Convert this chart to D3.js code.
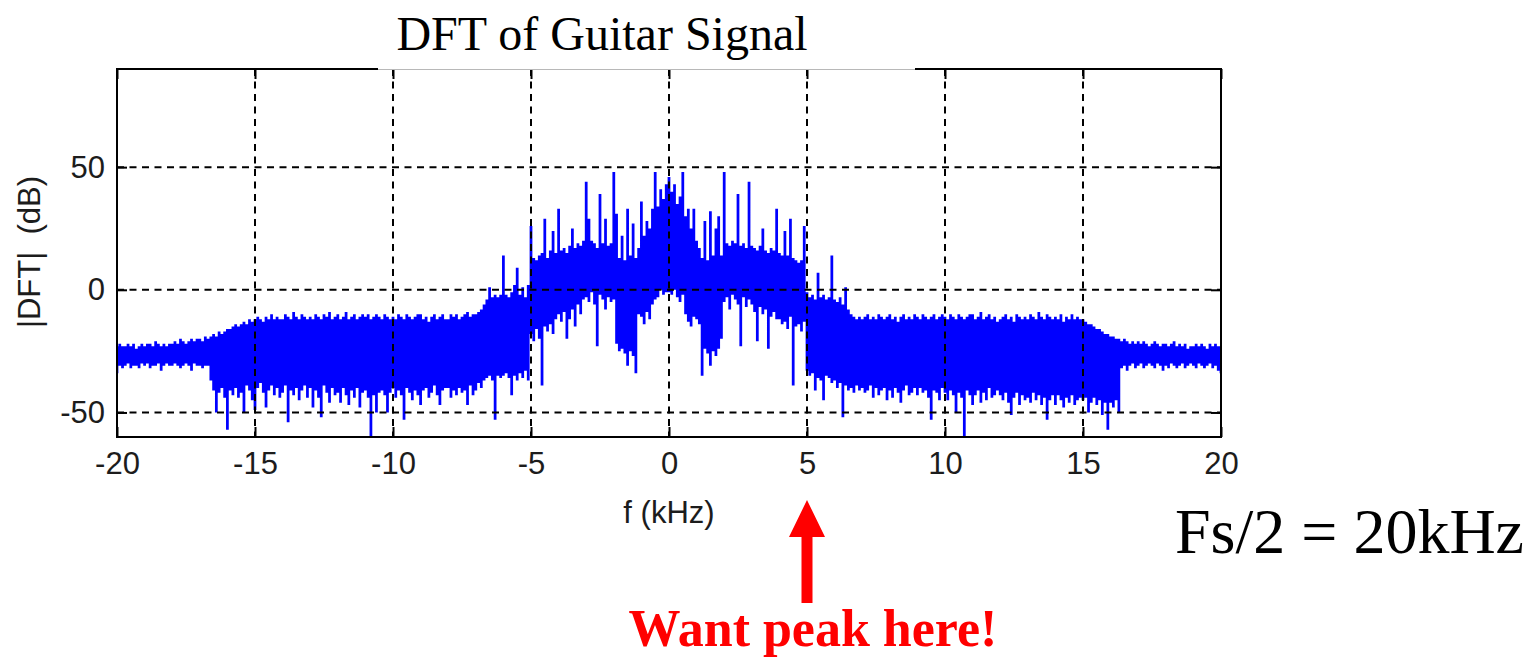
<!DOCTYPE html>
<html>
<head>
<meta charset="utf-8">
<script src="https://cdn.jsdelivr.net/npm/d3@7"></script>
<style>
  body { margin: 0; background: #fff; }
</style>
</head>
<body>
<svg id="drawing_region"></svg>
<script>
// spectrum, one value every 0.1 kHz from -20 to 20 kHz
const freqStart = -20;
const freqStep = 0.1;

// top edge of the blue band (dB)
const upperDb = [
  -23, -22, -23, -23, -22, -23, -22, -24, -23, -22,   // -20
  -23, -22, -22, -23, -21, -22, -23, -22, -23, -22,   // -19
  -22, -21, -22, -20, -21, -22, -21, -20, -21, -20,   // -18
  -20, -21, -19, -20, -19, -18, -19, -17, -18, -17,   // -17
  -16, -16, -15, -14, -15, -14, -13, -14, -12, -13,   // -16
  -12, -11, -12, -13, -11, -12, -10, -12, -11, -12,   // -15
  -12, -10, -11, -12,  -9, -11, -12, -10, -11, -12,   // -14
  -11, -12, -10, -11, -12, -10, -11,  -9, -12, -11,   // -13
  -10, -12, -11,  -9, -12, -11, -10, -12, -11, -10,   // -12
  -11, -10, -12, -11, -10, -11, -12, -10, -11, -12,   // -11
  -11, -12, -10, -11, -12, -10, -11, -12, -11, -10,   // -10
  -10, -12, -11, -13, -11, -10, -12, -11, -10, -12,   // -9
  -12, -10, -11, -10, -12, -11, -10,  -9, -11, -10,   // -8
  -10,  -9,  -8,  -6,  -4,   1,  -3,  -2,  -3,  -2,   // -7
   14,  -2,  -3,  -1,   2,   9,  -2,   1,  -3,   2,   // -6
   26,  13,  12,  14,  15,  29,  13,  16,  24,  15,   // -5
   33,  16,  17,  15,  18,  25,  17,  19,  18,  20,   // -4
   44,  29,  20,  19,  17,  39,  19,  29,  18,  19,   // -3
   48,  31,  13,  22,  12,  33,  14,  27,  13,  17,   // -2
   36,  22,  28,  25,  33,  48,  34,  41,  37,  43,   // -1
   46,  40,  43,  35,  38,  48,  30,  33,  25,  33,   // 0
   20,  17,  13,  28,  12,  32,  14,  25,  30,  14,   // 1
   48,  19,  18,  20,  19,  39,  18,  19,  17,  44,   // 2
   18,  17,  16,  18,  25,  16,  15,  17,  16,  33,   // 3
   15,  14,  24,  14,  29,  13,  12,  11,  12,  26,   // 4
   -1,  -3,  -2,  -4,   7,  -3,  -2,  -4,  -3,  14,   // 5
   -4,  -5,  -3,  -6,   1,  -8, -10, -11, -12, -11,   // 6
  -12, -11, -10, -12, -11, -12, -10, -11, -12, -11,   // 7
  -10, -12, -11, -13, -11, -10, -12, -11, -12, -10,   // 8
  -11, -12, -10, -11, -12, -11, -10, -12, -11, -10,   // 9
  -11, -12, -10, -11, -12, -10, -11, -12, -11, -10,   // 10
  -10, -12, -11,  -9, -12, -11, -10, -12, -11, -13,   // 11
  -12, -11, -10, -12, -11, -13, -10, -11, -12, -11,   // 12
  -12, -10, -11, -12,  -9, -11, -12, -10, -11, -12,   // 13
  -11, -12, -10, -13, -11, -12, -10, -12, -11, -12,   // 14
  -12, -13, -14, -14, -15, -16, -16, -17, -18, -18,   // 15
  -19, -19, -20, -20, -21, -20, -21, -22, -21, -22,   // 16
  -21, -22, -21, -22, -23, -22, -21, -22, -23, -22,   // 17
  -22, -23, -22, -21, -23, -22, -23, -22, -24, -23,   // 18
  -23, -22, -23, -22, -23, -24, -22, -23, -22, -23, -23  // 19 .. 20
];

// bottom edge of the blue band (dB)
const lowerDb = [
  -34, -31, -32, -31, -30, -32, -31, -31, -32, -30,   // -20
  -31, -30, -32, -31, -31, -30, -33, -31, -30, -31,   // -19
  -31, -30, -31, -32, -31, -30, -31, -33, -30, -31,   // -18
  -31, -32, -31, -31, -37, -41, -50, -42, -40, -44,   // -17
  -57, -41, -43, -40, -44, -42, -50, -39, -41, -45,   // -16
  -49, -40, -38, -42, -48, -41, -39, -43, -40, -44,   // -15
  -42, -39, -54, -41, -43, -40, -45, -41, -39, -44,   // -14
  -40, -48, -41, -44, -52, -39, -42, -46, -40, -43,   // -13
  -42, -46, -40, -43, -47, -41, -44, -40, -48, -42,   // -12
  -41, -44, -60, -43, -50, -42, -41, -43, -50, -42,   // -11
  -40, -44, -41, -43, -53, -40, -42, -45, -41, -43,   // -10
  -47, -41, -40, -44, -42, -39, -43, -47, -41, -40,   // -9
  -40, -44, -41, -43, -40, -42, -41, -47, -39, -43,   // -8
  -41, -38, -40, -37, -36, -35, -37, -53, -35, -36,   // -7
  -35, -34, -36, -43, -35, -37, -34, -36, -33, -37,   // -6
  -18, -21, -16, -20, -39, -15, -17, -14, -18, -12,   // -5
  -10, -13,  -9, -20, -12,  -8, -15,  -6, -10,  -4,   // -4
   -3,  -5,  -1,  -6, -23,  -2,  -4,  -8,  -3,  -5,   // -3
   -4, -22, -25, -24, -26, -31, -25, -27, -34, -10,   // -2
  -11, -14,  -9, -12,  -6,  -4,  -3,   0,  -2,  -1,   // -1
   -1,  -2,   0,  -3,  -5,  -2, -10, -13, -15, -11,   // 0
  -12, -14, -35, -24, -26, -31, -25, -27, -24, -20,   // 1
   -5,  -3,  -8,  -2,  -4,  -6, -23,  -3,  -7,  -4,   // 2
   -6,  -9, -21,  -7, -10,  -8, -24, -11,  -9, -12,   // 3
  -12, -14, -13, -16, -11, -39, -15, -14, -17, -13,   // 4
  -33, -35, -34, -41, -36, -37, -45, -35, -36, -38,   // 5
  -37, -40, -38, -52, -39, -41, -40, -42, -39, -41,   // 6
  -40, -42, -41, -39, -44, -40, -43, -41, -40, -45,   // 7
  -41, -44, -40, -42, -46, -41, -39, -43, -42, -40,   // 8
  -43, -40, -42, -41, -44, -53, -41, -42, -45, -40,   // 9
  -42, -45, -41, -43, -50, -42, -44, -60, -41, -43,   // 10
  -47, -43, -41, -46, -42, -45, -40, -44, -43, -41,   // 11
  -43, -45, -42, -46, -51, -44, -42, -47, -43, -45,   // 12
  -44, -46, -42, -45, -43, -47, -44, -53, -45, -43,   // 13
  -47, -43, -45, -48, -44, -46, -43, -47, -45, -44,   // 14
  -45, -44, -50, -46, -44, -47, -45, -51, -46, -57,   // 15
  -46, -48, -45, -50, -32, -31, -33, -31, -30, -32,   // 16
  -31, -30, -32, -31, -30, -31, -32, -30, -31, -33,   // 17
  -31, -32, -30, -31, -32, -31, -30, -32, -31, -30,   // 18
  -31, -32, -30, -31, -32, -31, -30, -32, -31, -33, -34  // 19 .. 20
];

const xDomain = [-20, 20];
const yDomain = [-60, 90];
const xTicks = [-20, -15, -10, -5, 0, 5, 10, 15, 20];
const yTicks = [-50, 0, 50];

const titleText = "DFT of Guitar Signal";
const xLabel = "f (kHz)";
const yLabel = "|DFT|  (dB)";
const noteText = "Fs/2 = 20kHz";
const peakText = "Want peak here!";
const peakFreq = 5;

class SpectrumPlot {

    constructor( config ) {
        this.config = {
            parent: config.parent,
            width: config.width || 256,
            height: config.height || 256,
            margin: config.margin || {top:10, right:10, bottom:10, left:10}
        };
        this.data = upperDb.map( (u, i) => ({ f: freqStart + i * freqStep, hi: u, lo: lowerDb[i] }) );
        this.init();
    }

    init() {
        let self = this;

        self.svg = d3.select( self.config.parent )
            .attr('width', self.config.width)
            .attr('height', self.config.height);

        self.inner_width = self.config.width - self.config.margin.left - self.config.margin.right;
        self.inner_height = self.config.height - self.config.margin.top - self.config.margin.bottom;

        self.chart = self.svg.append('g')
            .attr('transform', `translate(${self.config.margin.left}, ${self.config.margin.top})`);

        self.xscale = d3.scaleLinear()
            .domain( xDomain )
            .range( [0, self.inner_width] );

        self.yscale = d3.scaleLinear()
            .domain( yDomain )
            .range( [self.inner_height, 0] );
    }

    render() {
        let self = this;
        const W = self.inner_width, H = self.inner_height;
        const sans = '"Liberation Sans", Arial, sans-serif';
        const serif = '"Liberation Serif", "Times New Roman", serif';

        self.svg.append('defs').append('clipPath')
            .attr('id', 'plot_clip')
            .append('rect')
            .attr('width', W)
            .attr('height', H);

        // the spectrum band
        const area = d3.area()
            .x( d => self.xscale( d.f ) )
            .y0( d => self.yscale( d.lo ) )
            .y1( d => self.yscale( d.hi ) )
            .curve( d3.curveStep );

        self.chart.append('path')
            .datum( self.data )
            .attr('clip-path', 'url(#plot_clip)')
            .attr('fill', '#0000ff')
            .attr('d', area);

        // dashed grid (drawn over the data)
        const grid = self.chart.append('g')
            .attr('stroke', '#000')
            .attr('stroke-width', 2)
            .attr('stroke-dasharray', '7,5.5');

        grid.selectAll('.vgrid')
            .data( xTicks.filter( t => t > xDomain[0] && t < xDomain[1] ) )
            .enter()
            .append('line')
            .attr('x1', d => self.xscale( d ))
            .attr('x2', d => self.xscale( d ))
            .attr('y1', 0)
            .attr('y2', H);

        grid.selectAll('.hgrid')
            .data( yTicks )
            .enter()
            .append('line')
            .attr('x1', 0)
            .attr('x2', W)
            .attr('y1', d => self.yscale( d ))
            .attr('y2', d => self.yscale( d ));

        // axes with inward ticks
        const xaxis = d3.axisBottom( self.xscale )
            .tickValues( xTicks )
            .tickFormat( d => String(d) )
            .tickSize( -10 )
            .tickPadding( 15 );

        const yaxis = d3.axisLeft( self.yscale )
            .tickValues( yTicks )
            .tickFormat( d => String(d) )
            .tickSize( -10 )
            .tickPadding( 12 );

        const xg = self.chart.append('g')
            .attr('transform', `translate(0, ${H})`)
            .call( xaxis );
        const yg = self.chart.append('g')
            .call( yaxis );
        const tg = self.chart.append('g')
            .call( d3.axisTop( self.xscale ).tickValues( xTicks ).tickSize( -10 ).tickFormat('') );
        const rg = self.chart.append('g')
            .attr('transform', `translate(${W}, 0)`)
            .call( d3.axisRight( self.yscale ).tickValues( yTicks ).tickSize( -10 ).tickFormat('') );

        [xg, yg, tg, rg].forEach( g => {
            g.select('.domain').remove();
            g.selectAll('.tick line').attr('stroke', '#000').attr('stroke-width', 2);
            g.selectAll('.tick text')
                .attr('fill', '#1c1c1c')
                .style('font-family', sans)
                .style('font-size', '31px');
        });

        // frame
        self.chart.append('rect')
            .attr('width', W)
            .attr('height', H)
            .attr('fill', 'none')
            .attr('stroke', '#000')
            .attr('stroke-width', 2);

        // title box sitting on the top edge
        self.svg.append('rect')
            .attr('x', 378)
            .attr('y', 0)
            .attr('width', 537)
            .attr('height', self.config.margin.top)
            .attr('fill', '#fff');
        self.svg.append('line')
            .attr('x1', 378).attr('x2', 915)
            .attr('y1', self.config.margin.top + 0.5)
            .attr('y2', self.config.margin.top + 0.5)
            .attr('stroke', '#b8b8b8')
            .attr('stroke-width', 1);

        self.svg.append('text')
            .attr('x', 602)
            .attr('y', 50)
            .attr('text-anchor', 'middle')
            .style('font-family', serif)
            .style('font-size', '48px')
            .attr('fill', '#000')
            .text( titleText );

        // axis labels
        self.svg.append('text')
            .attr('x', self.config.margin.left + self.xscale(0))
            .attr('y', 523)
            .attr('text-anchor', 'middle')
            .style('font-family', sans)
            .style('font-size', '31px')
            .attr('fill', '#1c1c1c')
            .text( xLabel );

        self.svg.append('text')
            .attr('transform', 'translate(40, 252) rotate(-90)')
            .attr('text-anchor', 'middle')
            .style('font-family', sans)
            .style('font-size', '31px')
            .style('white-space', 'pre')
            .attr('fill', '#1c1c1c')
            .text( yLabel );

        // Fs/2 note
        self.svg.append('text')
            .attr('x', 1175)
            .attr('y', 553)
            .style('font-family', serif)
            .style('font-size', '64px')
            .attr('fill', '#000')
            .text( noteText );

        // red arrow pointing at 5 kHz
        const ax = self.config.margin.left + self.xscale( peakFreq );
        const arrow = [
            [ax, 500], [ax + 18, 537], [ax + 5.5, 537], [ax + 5.5, 603],
            [ax - 5.5, 603], [ax - 5.5, 537], [ax - 18, 537]
        ];
        self.svg.append('path')
            .attr('d', d3.line()( arrow ) + 'Z')
            .attr('fill', '#ff0000');

        self.svg.append('text')
            .attr('x', 813)
            .attr('y', 646)
            .attr('text-anchor', 'middle')
            .style('font-family', serif)
            .style('font-size', '52px')
            .style('font-weight', 'bold')
            .attr('fill', '#ff0000')
            .text( peakText );
    }
}

const config = {
    parent: '#drawing_region',
    width: 1532,
    height: 659,
    margin: {top:69, right:311, bottom:222, left:117}
};

const plot = new SpectrumPlot( config );
plot.render();
</script>
</body>
</html>
